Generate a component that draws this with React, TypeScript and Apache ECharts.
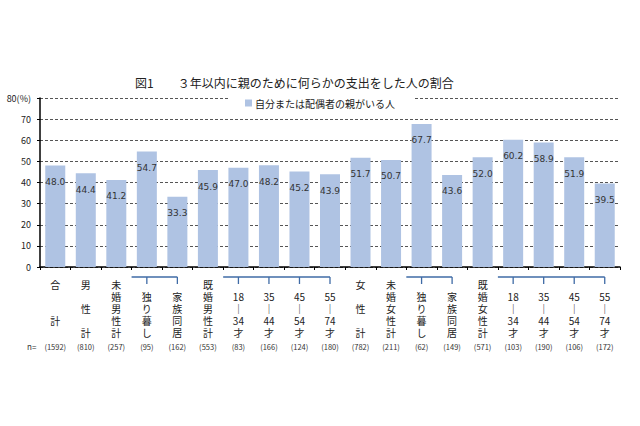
import React, { useEffect, useRef } from "react";
import * as echarts from "echarts";

const categories = [
  "合計", "男性計", "未婚男性計", "男性独り暮し", "男性家族同居", "既婚男性計",
  "男性18-34才", "男性35-44才", "男性45-54才", "男性55-74才",
  "女性計", "未婚女性計", "女性独り暮し", "女性家族同居", "既婚女性計",
  "女性18-34才", "女性35-44才", "女性45-54才", "女性55-74才",
];

const labelRows: string[][] = [
  ["合", "", "", "計", ""],
  ["男", "", "性", "", "計"],
  ["未", "婚", "男", "性", "計"],
  ["", "独", "り", "暮", "し"],
  ["", "家", "族", "同", "居"],
  ["既", "婚", "男", "性", "計"],
  ["", "18", "｜", "34", "才"],
  ["", "35", "｜", "44", "才"],
  ["", "45", "｜", "54", "才"],
  ["", "55", "｜", "74", "才"],
  ["女", "", "性", "", "計"],
  ["未", "婚", "女", "性", "計"],
  ["", "独", "り", "暮", "し"],
  ["", "家", "族", "同", "居"],
  ["既", "婚", "女", "性", "計"],
  ["", "18", "｜", "34", "才"],
  ["", "35", "｜", "44", "才"],
  ["", "45", "｜", "54", "才"],
  ["", "55", "｜", "74", "才"],
];

const nCounts = [
  "1592", "810", "257", "95", "162", "553", "83", "166", "124", "180",
  "782", "211", "62", "149", "571", "103", "190", "106", "172",
];

const values = [
  48.0, 44.4, 41.2, 54.7, 33.3, 45.9, 47.0, 48.2, 45.2, 43.9,
  51.7, 50.7, 67.7, 43.6, 52.0, 60.2, 58.9, 51.9, 39.5,
];

// bracket groups: [first index, last index]
const brackets = [
  [3, 4],
  [6, 9],
  [12, 13],
  [15, 18],
];

const seriesName = "自分または配偶者の親がいる人";
const titleText = "図1　　３年以内に親のために何らかの支出をした人の割合";

const FONT = "'Noto Sans CJK JP', 'Noto Sans', sans-serif";

export default function App() {
  const ref = useRef<HTMLDivElement>(null);

  useEffect(() => {
    if (!ref.current) return;
    const chart = echarts.init(ref.current, undefined, { renderer: "svg" });
    const option: any = {
      animation: false,
      backgroundColor: "#ffffff",
      textStyle: { fontFamily: FONT },
      title: {
        text: titleText,
        left: 135,
        top: 76,
        padding: 0,
        textStyle: { fontSize: 12, fontWeight: "normal", color: "#222", fontFamily: FONT },
      },
      legend: {
        data: [seriesName],
        left: 228,
        top: 95,
        padding: [3, 18, 3, 17],
        backgroundColor: "#ffffff",
        icon: "rect",
        itemWidth: 7,
        itemHeight: 7,
        itemGap: 4,
        textStyle: { fontSize: 10, color: "#222", fontFamily: FONT, padding: [0, 0, 0, -2] },
      },
      grid: { left: 40, right: 20, top: 98, bottom: 159, containLabel: false },
      xAxis: {
        type: "category",
        data: categories,
        axisLine: { lineStyle: { color: "#000", width: 1.5 } },
        axisTick: { show: true, length: 3, lineStyle: { color: "#000" }, alignWithLabel: false },
        axisLabel: {
          interval: 0,
          margin: 11,
          formatter: (_v: string, i: number) => {
            const rows = labelRows[i].map((r) => `{c|${r === "" ? "　" : r}}`);
            return rows.join("\n") + `\n{n|(${nCounts[i]})}`;
          },
          rich: {
            c: { fontSize: 10, lineHeight: 12, color: "#222", fontFamily: FONT, align: "center" },
            n: { fontSize: 7.5, lineHeight: 16, color: "#333", fontFamily: FONT, align: "center" },
          },
        },
      },
      yAxis: {
        type: "value",
        min: 0,
        max: 80,
        interval: 10,
        axisLine: { show: true, lineStyle: { color: "#000", width: 1.5 } },
        axisTick: { show: true, length: 3, lineStyle: { color: "#000" } },
        axisLabel: {
          fontSize: 9,
          color: "#222",
          margin: 9,
          formatter: (v: number) => (v === 80 ? "80(%)" : String(v)),
        },
        splitLine: {
          show: true,
          lineStyle: { color: "#555", type: [3, 2], width: 1 },
        },
      },
      series: [
        {
          name: seriesName,
          type: "bar",
          data: values,
          barWidth: 20,
          itemStyle: { color: "#afc3e3" },
          label: {
            show: true,
            position: "insideTop",
            distance: 12,
            fontSize: 9,
            color: "#333",
            fontFamily: "'DejaVu Sans', sans-serif",
            formatter: (p: any) => Number(p.value).toFixed(1),
          },
        },
        {
          name: "brackets",
          type: "custom",
          clip: false,
          silent: true,
          data: brackets,
          renderItem: (params: any, api: any) => {
            const s = api.value(0);
            const e = api.value(1);
            const band = api.size([1, 0])[0];
            const p0 = api.coord([s, 0]);
            const p1 = api.coord([e, 0]);
            const y = p0[1] + 10;
            const y2 = y + 7;
            const stroke = { stroke: "#3f6ba6", lineWidth: 1.3 };
            const children: any[] = [
              {
                type: "line",
                shape: { x1: p0[0] - band / 2, y1: y, x2: p1[0], y2: y },
                style: stroke,
              },
            ];
            for (let k = s; k <= e; k++) {
              const pk = api.coord([k, 0]);
              children.push({
                type: "line",
                shape: { x1: pk[0], y1: y, x2: pk[0], y2: y2 },
                style: stroke,
              });
            }
            return { type: "group", children };
          },
        },
      ],
      graphic: [
        {
          type: "text",
          left: 27,
          top: 342,
          style: { text: "n=", fontSize: 8, fill: "#333", fontFamily: FONT },
        },
      ],
    };
    chart.setOption(option);
    return () => chart.dispose();
  }, []);

  return (
    <div
      ref={ref}
      style={{ position: "fixed", left: 0, top: 0, width: 640, height: 426 }}
    />
  );
}
